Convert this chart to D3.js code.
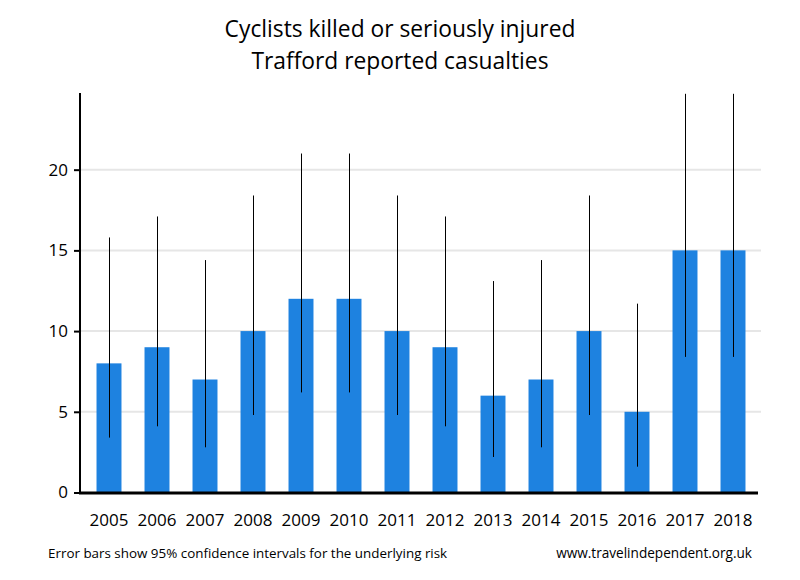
<!DOCTYPE html>
<html><head><meta charset="utf-8">
<script src="https://cdn.jsdelivr.net/npm/d3@7"></script>
<style>body{margin:0;background:#fff}svg{display:block}</style>
</head><body>
<svg id="chart" width="800" height="580"></svg>
<script>
const years = ["2005","2006","2007","2008","2009","2010","2011","2012","2013","2014","2015","2016","2017","2018"];
const casualties = [8, 9, 7, 10, 12, 12, 10, 9, 6, 7, 10, 5, 15, 15];
const lowerCI = [3.4, 4.1, 2.8, 4.8, 6.2, 6.2, 4.8, 4.1, 2.2, 2.8, 4.8, 1.6, 8.4, 8.4];
const upperCI = [15.8, 17.1, 14.4, 18.4, 21.0, 21.0, 18.4, 17.1, 13.1, 14.4, 18.4, 11.7, 24.7, 24.7];
const yTicks = [0, 5, 10, 15, 20];
const titleLines = ["Cyclists killed or seriously injured", "Trafford reported casualties"];
const footLeft = "Error bars show 95% confidence intervals for the underlying risk";
const footRight = "www.travelindependent.org.uk";

const svg = d3.select("#chart");
const font = "'Open Sans', 'Noto Sans', sans-serif";
const x = d3.scaleBand().domain(years).range([85, 757]).paddingInner(0.48).paddingOuter(0.24);
const y = d3.scaleLinear().domain([0, 24.75]).range([492.5, 93]);

// gridlines
svg.append("g").selectAll("line").data(yTicks.filter(d => d > 0)).join("line")
  .attr("x1", 80).attr("x2", 761).attr("y1", d => y(d)).attr("y2", d => y(d))
  .attr("stroke", "#e6e6e6").attr("stroke-width", 2);

// bars
svg.append("g").selectAll("rect").data(years).join("rect")
  .attr("x", d => x(d)).attr("width", x.bandwidth())
  .attr("y", (d, i) => y(casualties[i])).attr("height", (d, i) => y(0) - y(casualties[i]))
  .attr("fill", "#1e82e0");

// error bars
svg.append("g").selectAll("line").data(years).join("line")
  .attr("x1", d => Math.round(x(d) + x.bandwidth() / 2) + 0.5)
  .attr("x2", d => Math.round(x(d) + x.bandwidth() / 2) + 0.5)
  .attr("y1", (d, i) => y(lowerCI[i])).attr("y2", (d, i) => Math.max(y(upperCI[i]), 93))
  .attr("stroke", "#000").attr("stroke-width", 1);

// y axis
const yAxis = svg.append("g").attr("transform", "translate(80,0)")
  .call(d3.axisLeft(y).tickValues(yTicks).tickSize(6).tickPadding(6).tickSizeOuter(0));
yAxis.select(".domain").remove();
yAxis.selectAll(".tick line").attr("stroke", "#000").attr("stroke-width", 2);
yAxis.selectAll(".tick text").attr("font-family", font).attr("font-size", 17).attr("fill", "#000");
svg.append("line").attr("x1", 80).attr("x2", 80).attr("y1", 93).attr("y2", 493.5)
  .attr("stroke", "#000").attr("stroke-width", 2);

// x axis
const xAxis = svg.append("g").attr("transform", "translate(0,493)")
  .call(d3.axisBottom(x).tickSize(0).tickPadding(21));
xAxis.select(".domain").remove();
xAxis.selectAll(".tick text").attr("font-family", font).attr("font-size", 17).attr("fill", "#000");
svg.append("line").attr("x1", 79).attr("x2", 758).attr("y1", 493).attr("y2", 493)
  .attr("stroke", "#000").attr("stroke-width", 3);

// title
svg.append("g").selectAll("text").data(titleLines).join("text")
  .attr("x", 400).attr("y", (d, i) => 37 + i * 32)
  .attr("text-anchor", "middle").attr("font-family", font).attr("font-size", 22.8)
  .attr("fill", "#000").text(d => d);

// footer
svg.append("text").attr("x", 48).attr("y", 558).attr("font-family", font).attr("font-size", 13.4)
  .attr("fill", "#000").text(footLeft);
svg.append("text").attr("x", 752).attr("y", 558).attr("text-anchor", "end").attr("font-family", font)
  .attr("font-size", 13.6).attr("fill", "#000").text(footRight);
</script>
</body></html>
